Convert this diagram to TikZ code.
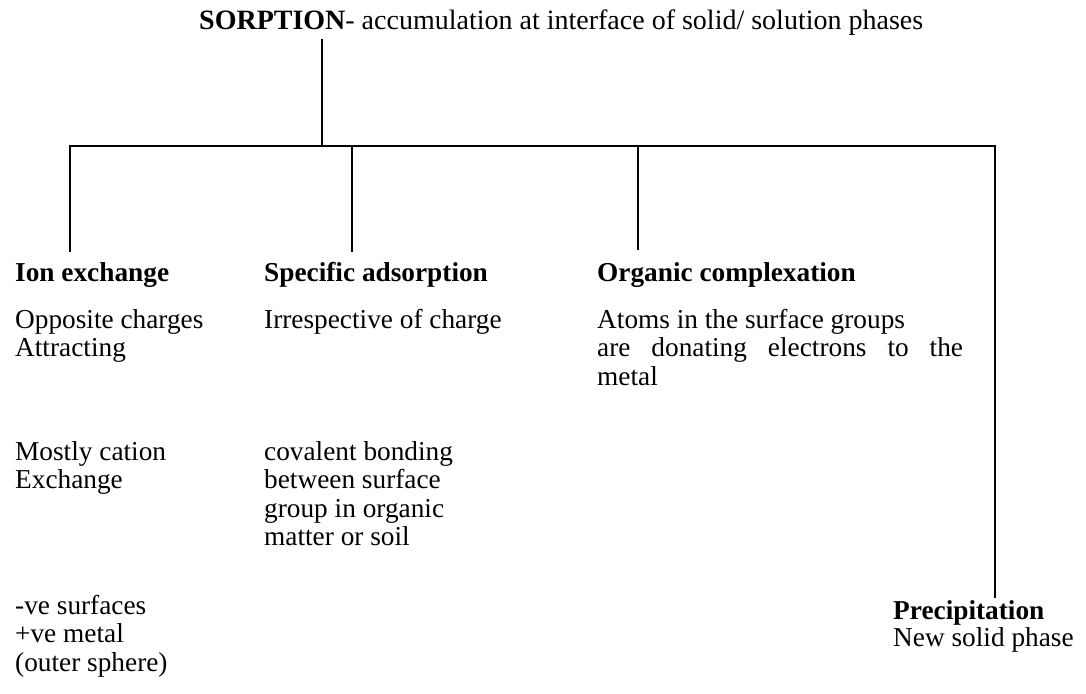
\documentclass[tikz,border=0pt]{standalone}
\usepackage{fontspec}
\setmainfont{Liberation Serif}
\begin{document}
\begin{tikzpicture}[x=1pt,y=-1pt]
    \useasboundingbox (0,0) rectangle (1086,693);

    \tikzset{txt/.style={anchor=north west, inner sep=0pt, align=left, font=\fontsize{27.3}{28.5}\selectfont},
             head/.style={txt, font=\fontsize{27.3}{28.5}\selectfont\bfseries},
             branch/.style={line width=2.6pt}}

    % text tops (baseline - ascender)
    \node[txt, anchor=base west, font=\fontsize{28}{30}\selectfont] (title) at (199,30) {\textbf{SORPTION}- accumulation at interface of solid/ solution phases};

    \node[head, anchor=base west] (ion) at (15,281) {Ion exchange};
    \node[txt] (ion1) at (15,309) {Opposite charges\\Attracting};
    \node[txt] (ion2) at (15,441) {Mostly cation\\Exchange};
    \node[txt] (ion3) at (15,595) {-ve surfaces\\+ve metal\\(outer sphere)};

    \node[head, anchor=base west] (spec) at (264,281) {Specific adsorption};
    \node[txt] (spec1) at (264,309) {Irrespective of charge};
    \node[txt] (spec2) at (264,441) {covalent bonding\\between surface\\group in organic\\matter or soil};

    \node[head, anchor=base west] (org) at (597,281) {Organic complexation};
    \node[txt] (org1) at (597,309) {Atoms in the surface groups\\\makebox[13.4em][s]{are donating electrons to the}\\metal};

    \node[head, anchor=base west] (prec) at (893,619) {Precipitation};
    \node[txt] (prec1) at (893,627) {New solid phase};

    \coordinate (top) at (322,39);
    \coordinate (hub) at (322,146);
    \foreach \n/\x/\y in {b1/70/252, b2/352/252, b3/638/250, b4/995/598} {
        \coordinate (\n) at (\x,\y);
    }

    \draw[branch] (top) -- (hub);
    \draw[branch] (b1) |- (hub) -| (b4);
    \draw[branch] (b2) -- (b2 |- hub);
    \draw[branch] (b3) -- (b3 |- hub);

\end{tikzpicture}
\end{document}
